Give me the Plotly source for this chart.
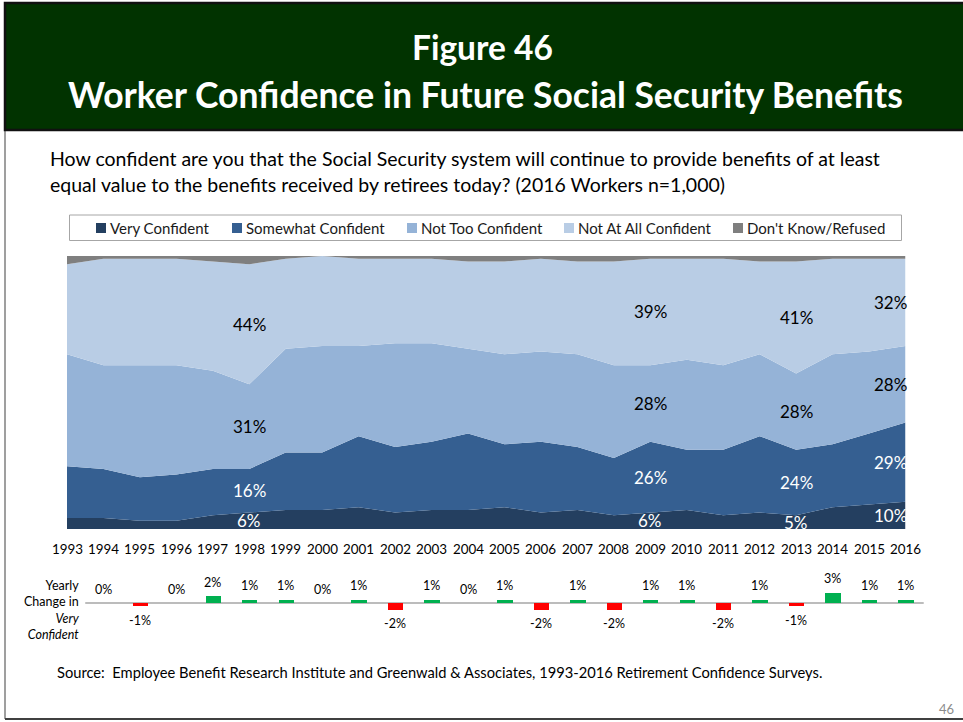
import plotly.graph_objects as go

# ---------------- data ----------------
years = list(range(1993, 2017))
very_confident = [4, 4, 3, 3, 5, 6, 7, 7, 8, 6, 7, 7, 8, 6, 7, 5, 6, 7, 5, 6, 5, 8, 9, 10]
somewhat_confident = [19, 18, 16, 17, 17, 16, 21, 21, 26, 24, 25, 28, 23, 26, 23, 21, 26, 22, 24, 28, 24, 23, 26, 29]
not_too_confident = [41, 38, 41, 40, 36, 31, 38, 39, 33, 38, 36, 31, 33, 33, 34, 34, 28, 33, 31, 30, 28, 33, 30, 28]
not_at_all_confident = [33, 39, 39, 39, 40, 44, 33, 33, 32, 31, 31, 32, 34, 34, 34, 38, 39, 37, 39, 34, 41, 35, 34, 32]
dont_know = [3, 1, 1, 1, 2, 3, 1, 0, 1, 1, 1, 2, 2, 1, 2, 2, 1, 1, 1, 2, 2, 1, 1, 1]

change_years = list(range(1994, 2017))
yearly_change = [0, -1, 0, 2, 1, 1, 0, 1, -2, 1, 0, 1, -2, 1, -2, 1, 1, -2, 1, -1, 3, 1, 1]

series_names = ["Very Confident", "Somewhat Confident", "Not Too Confident",
                "Not At All Confident", "Don't Know/Refused"]
series_values = [very_confident, somewhat_confident, not_too_confident,
                 not_at_all_confident, dont_know]
series_colors = ["#243F60", "#355F91", "#95B3D7", "#B9CDE5", "#7F7F7F"]
label_colors = ["white", "white", "black", "black", None]
label_years = [1998, 2009, 2013, 2016]

W, H = 963, 722
FONT = "Lato"


def fx(px):
    return px / W


def fy(py):
    return 1 - py / H


def txt(x, y, text, size, color="black", xanchor="center", **kw):
    d = dict(x=fx(x), y=fy(y), xref="paper", yref="paper", text=text, showarrow=False,
             xanchor=xanchor, yanchor="middle", font=dict(family=FONT, size=size, color=color))
    d.update(kw)
    return d


fig = go.Figure()

# stacked areas
for name, vals, col in zip(series_names, series_values, series_colors):
    fig.add_trace(go.Scatter(
        x=years, y=vals, name=name, mode="lines", stackgroup="one",
        line=dict(width=0, color=col), fillcolor=col, showlegend=False,
        hoverinfo="x+y+name", xaxis="x", yaxis="y"))

# yearly change bars
fig.add_trace(go.Bar(
    x=change_years, y=yearly_change, width=0.42,
    marker=dict(color=["#00B050" if v >= 0 else "#FF0000" for v in yearly_change], line=dict(width=0)),
    showlegend=False, xaxis="x2", yaxis="y2", hoverinfo="x+y"))

annotations = []
shapes = []

# data labels on areas (centered in each band)
for yr in label_years:
    i = years.index(yr)
    base = 0
    for k in range(4):
        v = series_values[k][i]
        mid = base + v / 2
        base += v
        ann = dict(x=yr, y=mid, xref="x", yref="y", text=f"{v}%", showarrow=False,
                   xanchor="center", yanchor="middle",
                   font=dict(family=FONT, size=17, color=label_colors[k]))
        if yr == years[-1]:
            ann.update(xanchor="right", xshift=3)
        annotations.append(ann)

# year labels
for yr in years:
    annotations.append(dict(x=yr, y=fy(549), xref="x", yref="paper", text=str(yr),
                            showarrow=False, xanchor="center", yanchor="middle",
                            font=dict(family=FONT, size=13.4, color="black")))

# bar labels
for yr, v in zip(change_years, yearly_change):
    annotations.append(dict(x=yr, y=v, xref="x2", yref="y2", text=f"{v}%", showarrow=False,
                            xanchor="center", yanchor="middle",
                            yshift=14 if v >= 0 else -14,
                            font=dict(family=FONT, size=12.5, color="black")))

# bar side label
annotations.append(txt(82, 610, "Yearly<br>Change in<br><i>Very</i><br><i>Confident</i>", 12.5,
                       xanchor="right", align="right"))

# zero line for bars
shapes.append(dict(type="line", xref="x2", yref="y2", x0=1993.5, x1=2016.5, y0=0, y1=0,
                   line=dict(color="#A6A6A6", width=1.5), layer="below"))

# slide frame & header
shapes.append(dict(type="line", xref="paper", yref="paper", x0=fx(5), x1=fx(5), y0=fy(3), y1=fy(719),
                   line=dict(color="#7F7F7F", width=1.5)))
shapes.append(dict(type="line", xref="paper", yref="paper", x0=fx(5), x1=fx(963), y0=fy(719), y1=fy(719),
                   line=dict(color="#404040", width=2)))
shapes.append(dict(type="rect", xref="paper", yref="paper", x0=fx(5), x1=fx(965), y0=fy(130), y1=fy(3),
                   fillcolor="#013300", line=dict(color="#111111", width=2.5)))

annotations.append(txt(482, 47, "<b>Figure 46</b>", 33.5, "white"))
annotations.append(txt(485, 95, "<b>Worker Confidence in Future Social Security Benefits</b>", 35.5, "white"))

# question text
annotations.append(txt(48, 158, "How confident are you that the Social Security system will continue to provide benefits of at least",
                       19.5, xanchor="left"))
annotations.append(txt(48, 184, "equal value to the benefits received by retirees today? (2016 Workers n=1,000)",
                       19.5, xanchor="left"))

# legend
shapes.append(dict(type="rect", xref="paper", yref="paper", x0=fx(69.5), x1=fx(901.5), y0=fy(240.5), y1=fy(215),
                   line=dict(color="#A6A6A6", width=1), fillcolor="rgba(0,0,0,0)"))
legend_x = [96, 232, 407, 564, 733]
for lx, name, col in zip(legend_x, series_names, series_colors):
    shapes.append(dict(type="rect", xref="paper", yref="paper", x0=fx(lx), x1=fx(lx + 10),
                       y0=fy(233), y1=fy(223), fillcolor=col, line=dict(width=0)))
    annotations.append(txt(lx + 12, 228, name, 15, "#1a1a1a", xanchor="left"))

# source & page number
annotations.append(txt(55, 672, "Source:  Employee Benefit Research Institute and Greenwald &amp; Associates, 1993-2016 Retirement Confidence Surveys.",
                       14.7, xanchor="left"))
annotations.append(txt(946, 709, "46", 13, "#8C8C8C"))

px_per_year = (905.5 - 67) / 23
fig.update_layout(
    width=W, height=H, margin=dict(l=0, r=0, t=0, b=0),
    paper_bgcolor="white", plot_bgcolor="rgba(0,0,0,0)",
    showlegend=False, bargap=0,
    xaxis=dict(domain=[fx(67), fx(905.5)], range=[1993, 2016], visible=False, fixedrange=True),
    yaxis=dict(domain=[fy(529), fy(256)], range=[0, 100], visible=False, fixedrange=True),
    xaxis2=dict(domain=[fx(67 - px_per_year), fx(905.5 + px_per_year)], range=[1992, 2017],
                visible=False, anchor="y2", fixedrange=True),
    yaxis2=dict(domain=[fy(637), fy(569)], range=[-10, 10], visible=False, anchor="x2", fixedrange=True),
    annotations=annotations, shapes=shapes,
)

fig.write_html("out.html", config={"displayModeBar": False},
               post_script="document.body.style.margin='0';document.body.style.overflow='hidden';")
